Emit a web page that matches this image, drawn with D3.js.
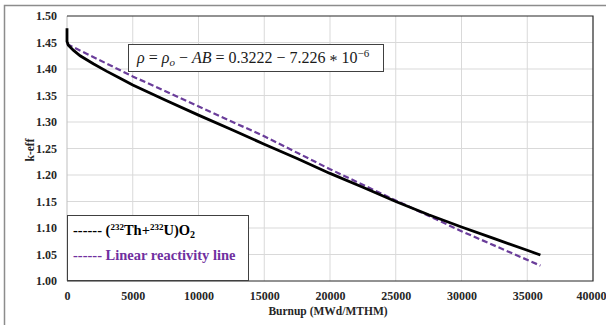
<!DOCTYPE html>
<html>
<head>
<meta charset="utf-8">
<script src="https://cdn.jsdelivr.net/npm/d3@7"></script>
<style>
  body { margin: 0; background: #fff; }
  svg { display: block; }
</style>
</head>
<body>
<svg width="606" height="325"></svg>
<script>
// burnup (MWd/MTHM) vs k-eff
const burnupFuel = [0, 0, 100, 500, 1000, 2000, 3000, 4000, 5000, 7500, 10000, 12500, 15000, 17500, 20000, 22500, 25000, 27500, 30000, 32500, 35000, 36000];
const keffFuel = [1.477, 1.452, 1.445, 1.435, 1.425, 1.410, 1.396, 1.383, 1.370, 1.341, 1.313, 1.286, 1.258, 1.231, 1.203, 1.177, 1.150, 1.125, 1.102, 1.080, 1.058, 1.049];

const burnupLinear = [0, 5000, 15000, 20000, 25000, 30000, 36000];
const keffLinear = [1.447, 1.386, 1.273, 1.211, 1.152, 1.094, 1.029];

const xTicks = [0, 5000, 10000, 15000, 20000, 25000, 30000, 35000, 40000];
const yTicks = [1.00, 1.05, 1.10, 1.15, 1.20, 1.25, 1.30, 1.35, 1.40, 1.45, 1.50];

const svg = d3.select("svg");
const m = { left: 67, top: 16, right: 593, bottom: 281 };
const serif = "Liberation Serif, Times New Roman, serif";

const x = d3.scaleLinear().domain([0, 40000]).range([m.left, m.right]);
const y = d3.scaleLinear().domain([1.0, 1.5]).range([m.bottom, m.top]);

// outer chart frame
svg.append("rect")
  .attr("x", 4.5).attr("y", 5.5)
  .attr("width", 620).attr("height", 340)
  .attr("fill", "none").attr("stroke", "#8c8c8c").attr("stroke-width", 1.5);

// gridlines
svg.append("g").selectAll("line")
  .data(xTicks.slice(1, -1))
  .join("line")
  .attr("x1", d => x(d)).attr("x2", d => x(d))
  .attr("y1", m.top).attr("y2", m.bottom)
  .attr("stroke", "#d9d9d9");
svg.append("g").selectAll("line")
  .data(yTicks.slice(1, -1))
  .join("line")
  .attr("x1", m.left).attr("x2", m.right)
  .attr("y1", d => y(d)).attr("y2", d => y(d))
  .attr("stroke", "#d9d9d9");

// plot border
svg.append("line").attr("x1", m.left).attr("x2", m.left).attr("y1", m.top).attr("y2", m.bottom).attr("stroke", "#bfbfbf");
svg.append("path")
  .attr("d", `M${m.left},${m.top}H${m.right}V${m.bottom}H${m.left}`)
  .attr("fill", "none").attr("stroke", "#262626").attr("stroke-width", 1.2);

// axes (labels only)
const xAxis = svg.append("g")
  .attr("transform", `translate(0,${m.bottom})`)
  .call(d3.axisBottom(x).tickValues(xTicks).tickSize(0).tickPadding(10).tickFormat(d3.format("d")));
const yAxis = svg.append("g")
  .attr("transform", `translate(${m.left},0)`)
  .call(d3.axisLeft(y).tickValues(yTicks).tickSize(0).tickPadding(10).tickFormat(d3.format(".2f")));
[xAxis, yAxis].forEach(a => {
  a.select(".domain").remove();
  a.selectAll("text")
    .attr("font-family", serif)
    .attr("font-weight", "bold")
    .attr("font-size", 12)
    .attr("fill", "#262626");
});
// keep the last x label inside the window
xAxis.selectAll(".tick").filter(d => d === 40000).select("text")
  .attr("text-anchor", "end").attr("dx", 13);

svg.append("text")
  .attr("x", 328).attr("y", 315)
  .attr("text-anchor", "middle")
  .attr("font-family", serif).attr("font-weight", "bold").attr("font-size", 11.5)
  .attr("fill", "#262626")
  .text("Burnup (MWd/MTHM)");
svg.append("text")
  .attr("transform", "translate(34,150) rotate(-90)")
  .attr("text-anchor", "middle")
  .attr("font-family", serif).attr("font-weight", "bold").attr("font-size", 11.5)
  .attr("fill", "#262626")
  .text("k-eff");

// series
const line = d3.line().x(d => x(d[0])).y(d => y(d[1]));
svg.append("path")
  .datum(d3.zip(burnupLinear, keffLinear))
  .attr("d", line)
  .attr("fill", "none").attr("stroke", "#6a3d9a").attr("stroke-width", 2.2)
  .attr("stroke-dasharray", "6,3");
svg.append("path")
  .datum(d3.zip(burnupFuel, keffFuel))
  .attr("d", line)
  .attr("fill", "none").attr("stroke", "#000").attr("stroke-width", 2.8);

// equation box
const eq = svg.append("g");
eq.append("rect")
  .attr("x", 128.5).attr("y", 44.5).attr("width", 255).attr("height", 27)
  .attr("fill", "#fff").attr("stroke", "#404040").attr("stroke-width", 1);
const eqText = eq.append("text")
  .attr("x", 137).attr("y", 63)
  .attr("font-family", serif).attr("font-size", 16).attr("fill", "#1a1a1a");
eqText.append("tspan").attr("font-style", "italic").text("ρ");
eqText.append("tspan").text(" = ");
eqText.append("tspan").attr("font-style", "italic").text("ρ");
eqText.append("tspan").attr("font-style", "italic").attr("font-size", 11).attr("dy", 3).text("o");
eqText.append("tspan").attr("dy", -3).text(" − ");
eqText.append("tspan").attr("font-style", "italic").text("AB");
eqText.append("tspan").text(" = 0.3222 − 7.226 ");
eqText.append("tspan").attr("dy", 3).text("*");
eqText.append("tspan").attr("dy", -3).text(" 10");
eqText.append("tspan").attr("font-size", 11).attr("dy", -6).text("−6");
// fit the equation inside its box
const eqW = eqText.node().getComputedTextLength();
if (eqW > 238) eqText.attr("transform", `translate(137,63) scale(${238 / eqW},1) translate(-137,-63)`);

// legend box
const lg = svg.append("g");
lg.append("rect")
  .attr("x", 67.5).attr("y", 215.5).attr("width", 181).attr("height", 65)
  .attr("fill", "#fff").attr("stroke", "#404040").attr("stroke-width", 1);
const l1 = lg.append("text")
  .attr("x", 73).attr("y", 235)
  .attr("font-family", serif).attr("font-weight", "bold").attr("font-size", 14.5)
  .attr("fill", "#000");
l1.append("tspan").text("------ (");
l1.append("tspan").attr("font-size", 9).attr("dy", -5).text("232");
l1.append("tspan").attr("dy", 5).text("Th+");
l1.append("tspan").attr("font-size", 9).attr("dy", -5).text("232");
l1.append("tspan").attr("dy", 5).text("U)O");
l1.append("tspan").attr("font-size", 10).attr("dy", 3).text("2");
lg.append("text")
  .attr("x", 73).attr("y", 260)
  .attr("font-family", serif).attr("font-weight", "bold").attr("font-size", 14.5)
  .attr("fill", "#7030a0")
  .text("------ Linear reactivity line");
</script>
</body>
</html>
